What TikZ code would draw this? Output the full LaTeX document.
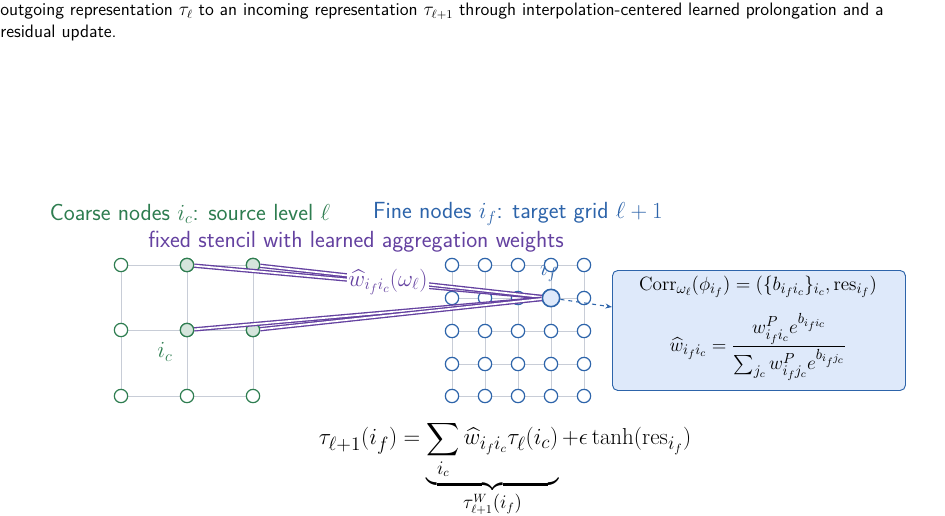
\documentclass[tikz,border=0pt]{standalone}
\usepackage{amsmath}
\usetikzlibrary{arrows.meta,decorations.pathreplacing}
\definecolor{cgreen}{RGB}{46,125,80}
\definecolor{cblue}{RGB}{45,100,170}
\definecolor{cpurple}{RGB}{100,65,160}
\definecolor{cfill}{RGB}{222,233,250}
\definecolor{cgrid}{RGB}{200,205,215}
\newcommand{\fsA}{\fontsize{13.5}{16}\selectfont}
\newcommand{\fsB}{\fontsize{19}{23}\selectfont}
\newcommand{\fsL}{\fontsize{17.5}{21}\selectfont}
\newcommand{\fsC}{\fontsize{15.5}{18}\selectfont}
\begin{document}
\begin{tikzpicture}[x=0.75pt,y=-0.75pt,
  cn/.style={circle,draw=cgreen,fill=white,line width=0.9pt,inner sep=0pt,minimum size=10pt},
  cna/.style={cn,fill=cgreen!20},
  fn/.style={circle,draw=cblue,fill=white,line width=0.9pt,inner sep=0pt,minimum size=10pt},
  grid/.style={draw=cgrid,line width=0.7pt},
  wl/.style={draw=cpurple,line width=1pt,double=white,double distance=1.3pt}]
\useasboundingbox (0,0) rectangle (945,515);
\node[anchor=north west,font=\sffamily\fsA,align=left,inner sep=0pt] (cap) at (0,3) {outgoing representation $\tau_\ell$ to an incoming representation $\tau_{\ell+1}$ through interpolation-centered learned prolongation and a\\[0pt] residual update.};
% coarse grid
\foreach \x in {121,187,253}{\draw[grid] (\x,265) -- (\x,396);}
\foreach \y in {265,330,396}{\draw[grid] (121,\y) -- (253,\y);}
% fine grid
\foreach \x in {452,485,518,551,584}{\draw[grid] (\x,265) -- (\x,396);}
\foreach \y in {265,298,331,364,396}{\draw[grid] (452,\y) -- (584,\y);}
\foreach \x [count=\i] in {452,485,518,551,584}{
  \foreach \y [count=\j] in {265,298,331,364,396}{
    \node[fn] (f\i\j) at (\x,\y) {};}}
\node[fn,fill=cfill,minimum size=13pt,line width=1.2pt] (F) at (551,298) {};
\foreach \x [count=\i] in {121,187,253}{
  \foreach \y [count=\j] in {265,330,396}{
    \node[cn] (c\i\j) at (\x,\y) {};}}
\foreach \i/\j in {2/1,3/1,2/2,3/2}{\node[cna] (a\i\j) at (c\i\j) {};}
\foreach \n in {a21,a31,a22,a32}{\draw[wl] (\n) -- (F);}
\node[fill=white,text=cpurple,inner sep=1pt,font=\fsL] (wlab) at (388,282) {$\widehat{w}_{i_f i_c}(\omega_\ell)$};
\node[text=cblue,font=\fsL] (iflab) at (549,271) {$i_f$};
\node[text=cgreen,font=\fsL] (iclab) at (165,352) {$i_c$};
\node[text=cgreen,font=\sffamily\fsL] (coarse) at (190,214) {Coarse nodes $i_c$: source level $\ell$};
\node[text=cblue,font=\sffamily\fsL] (fine) at (518,214) {Fine nodes $i_f$: target grid $\ell+1$};
\node[text=cpurple,font=\sffamily\fsL] (sten) at (356,242) {fixed stencil with learned aggregation weights};
% box
\node[draw=cblue,fill=cfill,rounded corners=4pt,line width=0.7pt,minimum width=293pt*0.75,minimum height=120pt*0.75,anchor=north west,inner sep=0pt] (box) at (612,270) {};
\node[font=\fsC] (corr) at (758,287) {$\mathrm{Corr}_{\omega_\ell}(\phi_{i_f})=(\{b_{i_f i_c}\}_{i_c},\mathrm{res}_{i_f})$};
\node[font=\fsC] (wfrac) at (758,347) {$\widehat{w}_{i_f i_c}=\dfrac{w^P_{i_f i_c}e^{b_{i_f i_c}}}{\sum_{j_c} w^P_{i_f j_c}e^{b_{i_f j_c}}}$};
\draw[cblue,dashed,line width=0.8pt,-{Stealth[length=5pt]}] (F) -- (box.west |- 0,307);
% equation
\node[font=\fsB,anchor=north] (eq) at (505,416) {$\tau_{\ell+1}(i_f)=\underbrace{\sum_{i_c}\widehat{w}_{i_f i_c}\tau_\ell(i_c)}_{\tau^W_{\ell+1}(i_f)}+\epsilon\tanh(\mathrm{res}_{i_f})$};
\end{tikzpicture}
\end{document}
